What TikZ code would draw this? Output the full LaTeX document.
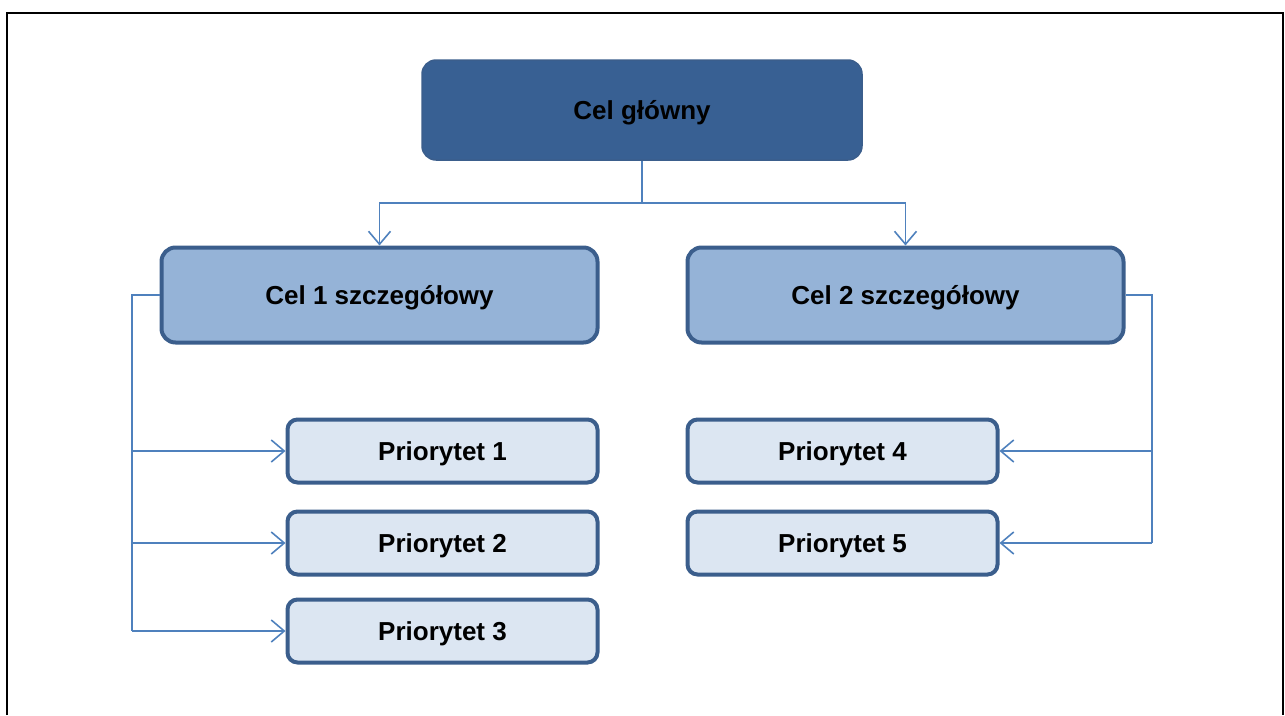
\documentclass[tikz,border=0pt]{standalone}
\usepackage{fontspec}
\setmainfont{Liberation Sans}
\usetikzlibrary{arrows.meta}
\definecolor{dark}{HTML}{386093}
\definecolor{edge}{HTML}{3B5E8C}
\definecolor{mid}{HTML}{95B3D7}
\definecolor{light}{HTML}{DCE6F2}
\definecolor{conn}{HTML}{4F81BD}
\begin{document}
\begin{tikzpicture}[x=1pt,y=-1pt,
  box/.style={rounded corners=14pt,draw=edge,line width=4pt,font=\bfseries\fontsize{26}{29}\selectfont,inner sep=0pt,text height=18.6pt,text depth=0pt},
  topbox/.style={box,fill=dark,line width=1.5pt,minimum width=440pt,minimum height=100pt},
  midbox/.style={box,fill=mid,minimum width=436pt,minimum height=95pt},
  prio/.style={box,fill=light,rounded corners=10pt,minimum width=310pt,minimum height=63pt},
  conn/.style={draw=conn,line width=1.8pt},
  arr/.style={conn,-{Straight Barb[length=13pt,width=22pt,line width=1.6pt]}}]
\useasboundingbox (0,0) rectangle (1285,715);
\draw[line width=2.2pt] (7,715) -- (7,13) -- (1283,13) -- (1283,715);
\node[topbox] (g) at (642,110) {Cel główny};
\node[midbox] (c1) at (379.5,295) {Cel 1 szczegółowy};
\node[midbox] (c2) at (905.5,295) {Cel 2 szczegółowy};
\node[prio] (p1) at (442.5,451) {Priorytet 1};
\node[prio] (p2) at (442.5,543) {Priorytet 2};
\node[prio] (p3) at (442.5,631) {Priorytet 3};
\node[prio] (p4) at (842.5,451) {Priorytet 4};
\node[prio] (p5) at (842.5,543) {Priorytet 5};
\coordinate (j) at (642,203);
\coordinate (l) at (132,295);
\coordinate (r) at (1152,295);
\draw[conn] (g.south) -- (j);
\draw[arr] (j) -| (c1.north);
\draw[arr] (j) -| (c2.north);
\draw[conn] (c1.west) -- (l) -- (l |- p3.west);
\draw[arr] (l |- p1.west) -- (p1.west);
\draw[arr] (l |- p2.west) -- (p2.west);
\draw[arr] (l |- p3.west) -- (p3.west);
\draw[conn] (c2.east) -- (r) -- (r |- p5.east);
\draw[arr] (r |- p4.east) -- (p4.east);
\draw[arr] (r |- p5.east) -- (p5.east);
\end{tikzpicture}
\end{document}
